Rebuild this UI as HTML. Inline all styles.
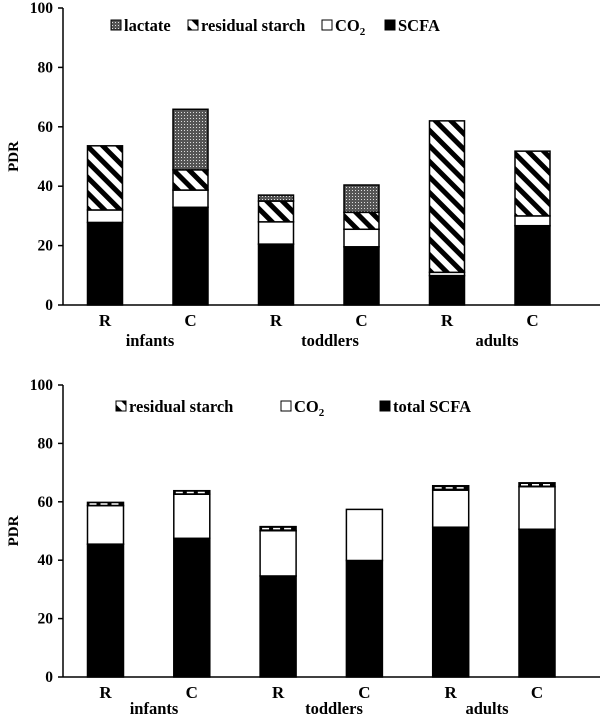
<!DOCTYPE html>
<html><head><meta charset="utf-8"><style>
body{margin:0;background:#fff;}
svg text{font-family:"Liberation Serif",serif;font-weight:bold;fill:#000;}
</style></head><body>
<svg id="chart" width="600" height="718" viewBox="0 0 600 718" xmlns="http://www.w3.org/2000/svg">
<defs>
<pattern id="hatch" patternUnits="userSpaceOnUse" width="11" height="11" patternTransform="rotate(-45)">
<rect width="11" height="11" fill="#fff"/><rect x="0" y="0" width="5" height="11" fill="#000"/></pattern>
<pattern id="dots" patternUnits="userSpaceOnUse" width="3" height="3">
<rect width="3" height="3" fill="#555"/><rect x="1" y="1" width="1" height="1" fill="#ddd"/></pattern>
</defs>
</svg>
<script>
const cats=["R","C","R","C","R","C"];
const groups=["infants","toddlers","adults"];
const yTicks=[0,20,40,60,80,100];
// top panel
const topScfa=[27.8,32.9,20.5,19.6,9.9,26.7];
const topCo2=[4.2,5.8,7.5,5.9,1.1,3.3];
const topStarch=[21.6,6.8,7,5.7,51,21.8];
const topLactate=[0,20.4,2,9.2,0,0];
// bottom panel
const botScfa=[45.5,47.5,34.6,39.9,51.3,50.6];
const botCo2=[13.2,15.1,15.5,17.5,12.7,14.6];
const botStarch=[1.1,1.2,1.4,0,1.5,1.3];

const svg=document.getElementById('chart');
const NS="http://www.w3.org/2000/svg";
function mk(tag,attrs,parent){const e=document.createElementNS(NS,tag);for(const k in attrs)e.setAttribute(k,attrs[k]);(parent||svg).appendChild(e);return e;}

function panel(p){
  const g=mk('g',{});
  
  
  const y=v=>p.y0-(p.y0-p.y100)*v/100;
  const x=i=>p.x0+i*p.step;
  const ax=mk('line',{x1:63,y1:p.y100,x2:63,y2:p.y0,stroke:'#000','stroke-width':1.5},g);
  
  const xa=mk('line',{x1:63,y1:p.y0,x2:600,y2:p.y0,stroke:'#000','stroke-width':1.5},g);
  
  yTicks.forEach(t=>{
    mk('line',{x1:58,y1:y(t),x2:63,y2:y(t),stroke:'#000','stroke-width':1.5},g);
    const tx=mk('text',{x:53,y:y(t)+5,'text-anchor':'end','font-size':15.5},g);
    tx.textContent=t;
    
    
  });
  const yl=mk('text',{x:0,y:0,'font-size':15,'text-anchor':'middle',transform:`translate(18,${(p.y0+p.y100)/2}) rotate(-90)`},g);
  yl.textContent='PDR';
  
  
  cats.forEach((c,i)=>{
    let base=0;
    p.series.forEach(s=>{
      const v=s.vals[i];
      if(v<=0)return;
      const top=y(base+v),bot=y(base);
      const r=mk('rect',{x:x(i)-p.w/2,y:top,width:p.w,height:bot-top,fill:s.fill,stroke:'#000','stroke-width':1.5},g);
      
      
      if(s.dash){
        const d=mk('line',{x1:x(i)-p.w/2+2,x2:x(i)+p.w/2-2,y1:(top+bot)/2,y2:(top+bot)/2,stroke:'#fff','stroke-width':1.5,'stroke-dasharray':'7 4'},g);
        
        
      }
      base+=v;
    });
    const t=mk('text',{x:x(i),y:p.y0+21,'text-anchor':'middle','font-size':17},g);
    t.textContent=c;
    
    
  });
  groups.forEach((gr,j)=>{
    const t=mk('text',{x:p.gx[j],y:p.gy,'text-anchor':'middle','font-size':16.5},g);
    t.textContent=gr;
    
    
  });
  p.legend.forEach(l=>{
    const r=mk('rect',{x:l.bx,y:p.ly-11,width:10,height:10,fill:l.fill,stroke:'#000','stroke-width':1},g);
    
    
    const t=mk('text',{x:l.bx+13,y:p.ly,'font-size':16.5},g);
    t.innerHTML=l.label;
    
    
  });
}
panel({name:'top-chart',y0:305,y100:8,x0:105,step:85.5,w:35,gy:346,gx:[150,330,497],ly:31,
  series:[{key:'scfa',vals:topScfa,fill:'#000'},{key:'co2',vals:topCo2,fill:'#fff'},{key:'starch',vals:topStarch,fill:'url(#hatch)'},{key:'lactate',vals:topLactate,fill:'url(#dots)'}],
  legend:[{bx:111,fill:'url(#dots)',label:'lactate'},{bx:188,fill:'url(#hatch)',label:'residual starch'},{bx:322,fill:'#fff',label:'CO<tspan font-size="11" dy="4">2</tspan>'},{bx:385,fill:'#000',label:'SCFA'}]});
panel({name:'bottom-chart',y0:677,y100:385,x0:105.5,step:86.3,w:36,gy:714,gx:[154,334,487],ly:412,
  series:[{key:'scfa',vals:botScfa,fill:'#000'},{key:'co2',vals:botCo2,fill:'#fff'},{key:'starch',vals:botStarch,fill:'#000',dash:true}],
  legend:[{bx:116,fill:'url(#hatch)',label:'residual starch'},{bx:281,fill:'#fff',label:'CO<tspan font-size="11" dy="4">2</tspan>'},{bx:380,fill:'#000',label:'total SCFA'}]});
</script>
</body></html>
